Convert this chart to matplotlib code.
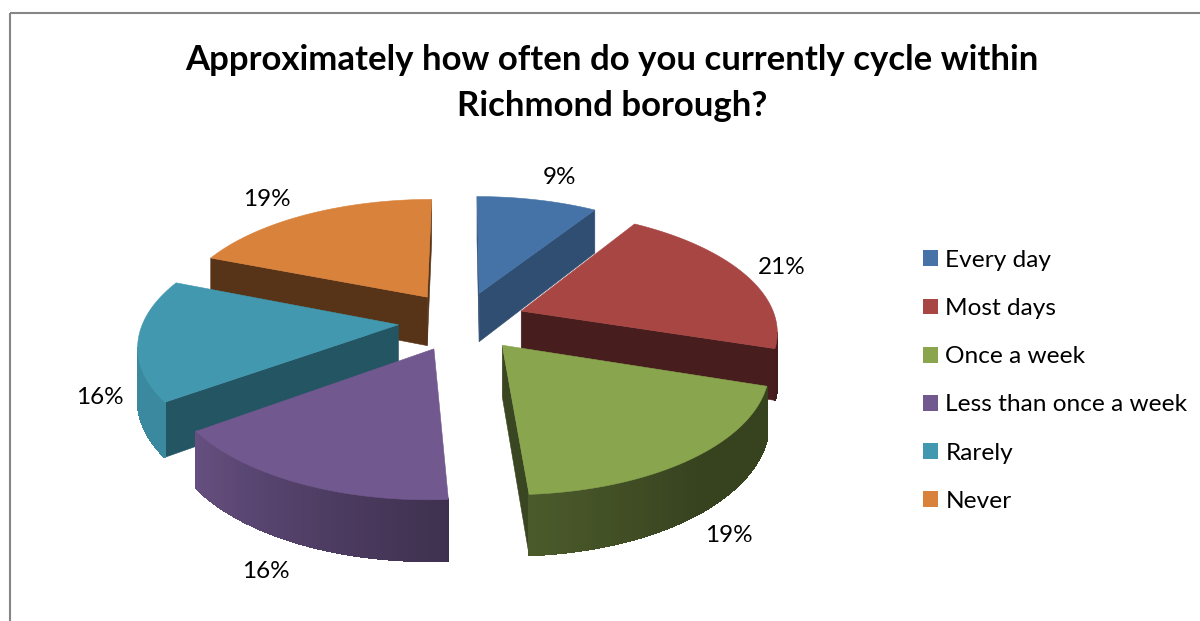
import numpy as np
import matplotlib
matplotlib.use("Agg")
import matplotlib.pyplot as plt
from matplotlib.patches import Polygon, Patch, Rectangle

categories = ["Every day", "Most days", "Once a week", "Less than once a week", "Rarely", "Never"]
values = [9, 21, 19, 16, 16, 19]
top_colors = ["#4673A7", "#A84644", "#89A54E", "#71588F", "#4198AF", "#D9823C"]
wall_shade = [0.68, 0.42, 0.42, 0.6, 0.56, 0.4]
title_text = "Approximately how often do you currently cycle within\nRichmond borough?"

# pixel position of each percent label
label_x = [559, 782, 729, 266, 100, 267]
label_y = [177, 267, 535, 571, 397, 199]

# projection settings
CX, CY = 462, 321
RX = 255
RY = 119
PERSP = 0.15
EXPLODE = 0.25
DEPTH = 50


def project(X, Y, Z=0.0):
    # Y points away from the viewer, Z is how far down the wall goes
    f = 1 / (1 + PERSP * Y)
    return CX + RX * X * f, CY - RY * Y * f + DEPTH * Z * f


def arc_shade(deg):
    return np.interp(deg, [108, 140, 176, 234, 292], [0.4, 0.4, 0.55, 0.9, 0.9])


def darker(color, k):
    rgb = np.array(matplotlib.colors.to_rgb(color))
    return tuple(rgb * k)


def poly_area(pts):
    x, y = np.array(pts).T
    return 0.5 * np.sum(x * np.roll(y, -1) - np.roll(x, -1) * y)


def add_poly(ax, pts, color, z, smooth=True):
    ax.add_patch(Polygon(pts, closed=True, facecolor=color, edgecolor=color,
                         lw=0.4 if smooth else 0.8, antialiased=smooth, zorder=z))


plt.rcParams["font.family"] = ["Lato", "DejaVu Sans"]
fig = plt.figure(figsize=(12, 6.21), dpi=100)
ax = fig.add_axes([0, 0, 1, 1])
ax.set_xlim(0, 1200)
ax.set_ylim(621, 0)
ax.axis("off")

ax.add_patch(Rectangle((10, 13), 1400, 900, fill=False, edgecolor="#868686", lw=1.5))

edges = np.cumsum([0] + values) / sum(values) * 360
mids = (edges[:-1] + edges[1:]) / 2
# back slices get painted first
order = np.argsort(-np.cos(np.radians(mids)))

for n, i in enumerate(order):
    a0, a1 = edges[i], edges[i + 1]
    mid = np.radians(mids[i])
    ox, oy = EXPLODE * np.sin(mid), EXPLODE * np.cos(mid)
    base = 10 + n * 10
    degs = np.linspace(a0, a1, 60)
    xs = ox + np.sin(np.radians(degs))
    ys = oy + np.cos(np.radians(degs))

    tip_top = project(ox, oy)
    tip_bot = project(ox, oy, 1)

    # the two cut walls, only if they face the viewer
    wall_col = darker(top_colors[i], wall_shade[i])
    p0t, p0b = project(xs[0], ys[0]), project(xs[0], ys[0], 1)
    p1t, p1b = project(xs[-1], ys[-1]), project(xs[-1], ys[-1], 1)
    wall_a = [tip_top, p0t, p0b, tip_bot]
    wall_b = [tip_top, tip_bot, p1b, p1t]
    for wall in (wall_a, wall_b):
        if poly_area(wall) < 0:
            add_poly(ax, wall, wall_col, base)

    # outer rim, cut in strips to fake the shading
    for k in range(len(degs) - 1):
        xa, ya, xb, yb = xs[k], ys[k], xs[k + 1], ys[k + 1]
        strip = [project(xa, ya), project(xb, yb), project(xb, yb, 1), project(xa, ya, 1)]
        if poly_area(strip) < 0:
            add_poly(ax, strip, darker(top_colors[i], arc_shade(degs[k])), base + 1, smooth=False)

    # top face
    top = [tip_top] + [project(x, y) for x, y in zip(xs, ys)]
    add_poly(ax, top, top_colors[i], base + 2)

for lx, ly, v in zip(label_x, label_y, values):
    ax.text(lx, ly, f"{v}%", ha="center", va="center", fontsize=17.5, color="black", zorder=200)

ax.text(612, 83, title_text, ha="center", va="center", fontsize=25, fontweight="bold",
        linespacing=1.55, color="black", zorder=200)

handles = [Patch(facecolor=c, edgecolor="none") for c in top_colors]
ax.legend(handles, categories, loc="upper left", bbox_to_anchor=(923, 250), bbox_transform=ax.transData,
          frameon=False, fontsize=17.6, handlelength=0.62, handleheight=0.62, handletextpad=0.3,
          labelspacing=1.11, borderpad=0, borderaxespad=0)

fig.savefig("out.png", dpi=100, facecolor="white")
